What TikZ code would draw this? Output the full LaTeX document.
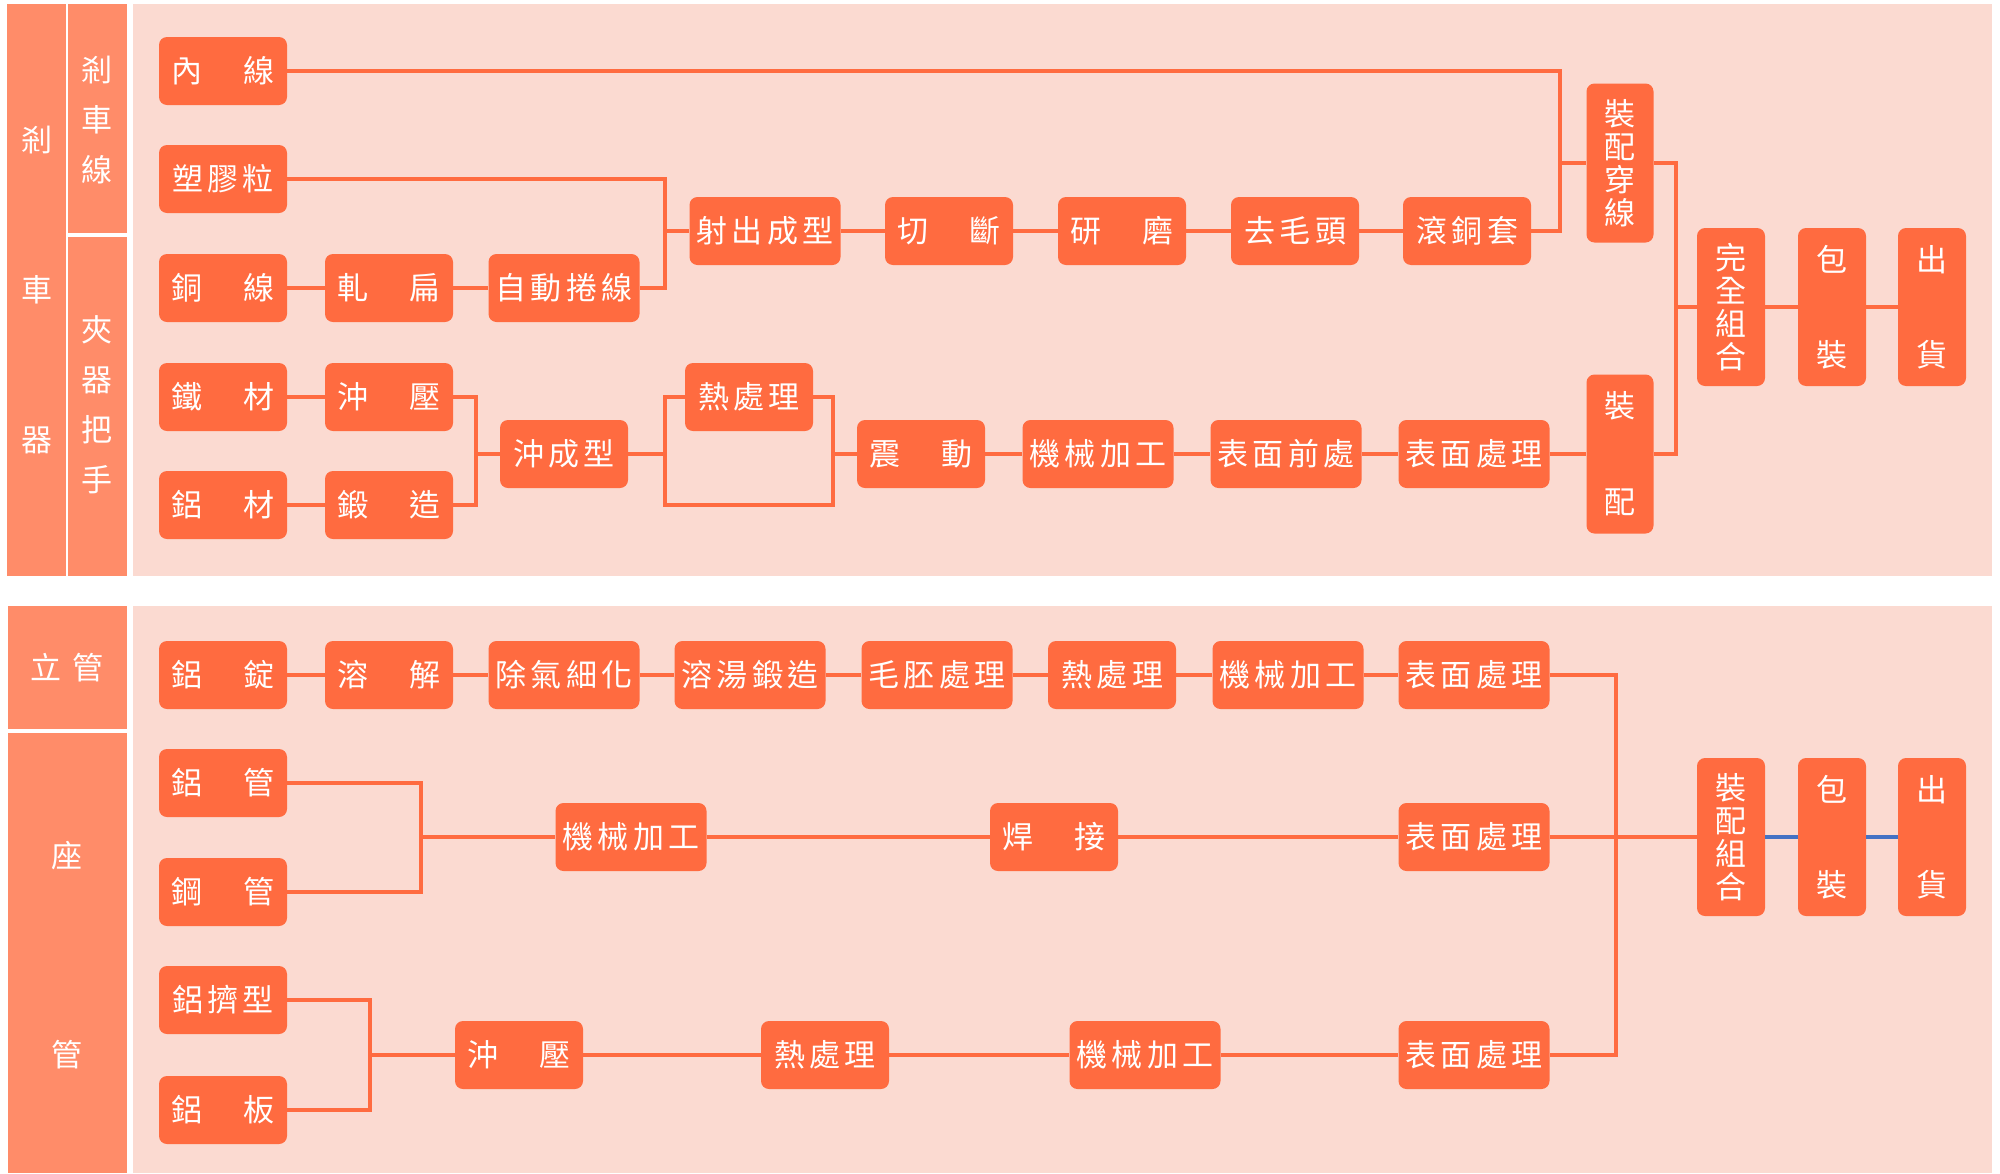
\documentclass[tikz,border=0pt]{standalone}
\usepackage{fontspec}
\setmainfont{Noto Sans CJK TC}
\definecolor{boxc}{HTML}{FF6B40}
\definecolor{catc}{HTML}{FF8C69}
\definecolor{panelc}{HTML}{FBDAD1}
\definecolor{bluec}{HTML}{4472C4}
\newcommand\tw[2]{\makebox[104pt][s]{#1\hfill#2}}
\newcommand\lsp{\kern4.5pt}
\begin{document}
\begin{tikzpicture}[x=1pt,y=-1pt,
  box/.style={fill=boxc, rounded corners=8pt, text=white, inner sep=0pt,
    minimum width=128pt, minimum height=68pt, font=\fontsize{31}{33}\selectfont},
  wide/.style={box, minimum width=151pt},
  tall/.style={box, minimum width=68pt, minimum height=158pt, align=center},
  ln/.style={draw=boxc, line width=3.5pt, line join=miter},
  bl/.style={draw=bluec, line width=3.5pt},
  cattext/.style={text=white, inner sep=0pt, align=center}]
\fill[white] (0,0) rectangle (2000,1173);
\useasboundingbox (0,0) rectangle (2000,1173);
% panels
\fill[catc] (7,4) rectangle (66,576);
\fill[catc] (68,4) rectangle (127,233);
\fill[catc] (68,237) rectangle (127,576);
\fill[panelc] (133,4) rectangle (1992,576);
\fill[catc] (8,606) rectangle (127,729);
\fill[catc] (8,733) rectangle (127,1173);
\fill[panelc] (133,606) rectangle (1992,1173);
% category labels
\node[cattext, font=\fontsize{31}{150}\selectfont] (c1) at (37,290) {剎\\車\\器};
\node[cattext, font=\fontsize{31}{50}\selectfont] (c2) at (97,120) {剎\\車\\線};
\node[cattext, font=\fontsize{31}{50}\selectfont] (c3) at (97,405) {夾\\器\\把\\手};
\node[cattext, font=\fontsize{31}{33}\selectfont] (c4) at (67,668) {立\hspace{12pt}管};
\node[cattext, font=\fontsize{31}{199}\selectfont] (c5) at (67,955) {座\\管};

% ---------- top panel nodes ----------
\node[box] (nx) at (223,71) {\tw{內}{線}};
\node[box] (sj) at (223,179) {塑\lsp 膠\lsp 粒};
\node[box] (tx) at (223,288) {\tw{銅}{線}};
\node[box] (zb) at (389,288) {\tw{軋}{扁}};
\node[wide] (zd) at (564,288) {自\lsp 動\lsp 捲\lsp 線};
\node[box] (tc) at (223,397) {\tw{鐵}{材}};
\node[box] (cy) at (389,397) {\tw{沖}{壓}};
\node[box] (lc) at (223,505) {\tw{鋁}{材}};
\node[box] (dz) at (389,505) {\tw{鍛}{造}};
\node[box] (ccx) at (564,454) {沖\lsp 成\lsp 型};
\node[wide] (sc) at (765,231) {射\lsp 出\lsp 成\lsp 型};
\node[box] (qd) at (949,231) {\tw{切}{斷}};
\node[box] (ym) at (1122,231) {\tw{研}{磨}};
\node[box] (qmt) at (1295,231) {去\lsp 毛\lsp 頭};
\node[box] (gtt) at (1467,231) {滾\lsp 銅\lsp 套};
\node[box] (rcl) at (749,397) {熱\lsp 處\lsp 理};
\node[box] (zd2) at (921,454) {\tw{震}{動}};
\node[wide] (jx) at (1098,454) {機\lsp 械\lsp 加\lsp 工};
\node[wide] (bq) at (1286,454) {表\lsp 面\lsp 前\lsp 處};
\node[wide] (bm) at (1474,454) {表\lsp 面\lsp 處\lsp 理};
\node[tall, minimum width=67pt, minimum height=159pt] (zpcx) at (1620,163) {裝\\配\\穿\\線};
\node[tall, minimum width=67pt, minimum height=159pt] (zp) at (1620,454) {裝\\[63pt]配};
\node[tall] (wq) at (1731,307) {完\\全\\組\\合};
\node[tall] (bz) at (1832,307) {包\\[62pt]裝};
\node[tall] (ch) at (1932,307) {出\\[62pt]貨};

\coordinate (v1) at (1560,0);
\coordinate (v2) at (665,0);
\coordinate (v3) at (476,0);
\coordinate (v4) at (833,0);
\coordinate (v5) at (1676,0);

% ---------- top panel connectors ----------
\draw[ln] (nx.east) -- (nx.east -| v1) |- (gtt.east);
\draw[ln] (v1 |- zpcx.west) -- (zpcx.west);
\draw[ln] (sj.east) -- (sj.east -| v2) |- (zd.east);
\draw[ln] (v2 |- sc.west) -- (sc.west);
\draw[ln] (tx) -- (zb);
\draw[ln] (zb) -- (zd);
\draw[ln] (tc) -- (cy);
\draw[ln] (lc) -- (dz);
\draw[ln] (cy.east) -- (cy.east -| v3) |- (dz.east);
\draw[ln] (v3 |- ccx.west) -- (ccx.west);
\draw[ln] (sc) -- (qd);
\draw[ln] (qd) -- (ym);
\draw[ln] (ym) -- (qmt);
\draw[ln] (qmt) -- (gtt);
\draw[ln] (ccx.east) -- (ccx.east -| v2);
\draw[ln] (rcl.west) -- (rcl.west -| v2) -- (v2 |- dz.east) -- (v4 |- dz.east) -- (v4 |- rcl.east) -- (rcl.east);
\draw[ln] (v4 |- zd2.west) -- (zd2.west);
\draw[ln] (zd2) -- (jx);
\draw[ln] (jx) -- (bq);
\draw[ln] (bq) -- (bm);
\draw[ln] (bm) -- (zp);
\draw[ln] (zpcx.east) -- (zpcx.east -| v5) |- (zp.east);
\draw[ln] (v5 |- wq.west) -- (wq.west);
\draw[ln] (wq) -- (bz);
\draw[ln] (bz) -- (ch);

% ---------- bottom panel nodes ----------
\node[box] (ld) at (223,675) {\tw{鋁}{錠}};
\node[box] (rj) at (389,675) {\tw{溶}{解}};
\node[wide] (cq) at (564,675) {除\lsp 氣\lsp 細\lsp 化};
\node[wide] (rt) at (750,675) {溶\lsp 湯\lsp 鍛\lsp 造};
\node[wide] (mp) at (937,675) {毛\lsp 胚\lsp 處\lsp 理};
\node[box] (rcl2) at (1112,675) {熱\lsp 處\lsp 理};
\node[wide] (jx2) at (1288,675) {機\lsp 械\lsp 加\lsp 工};
\node[wide] (bm2) at (1474,675) {表\lsp 面\lsp 處\lsp 理};
\node[box] (lg) at (223,783) {\tw{鋁}{管}};
\node[box] (gg) at (223,892) {\tw{鋼}{管}};
\node[wide] (jx3) at (631,837) {機\lsp 械\lsp 加\lsp 工};
\node[box] (hj) at (1054,837) {\tw{焊}{接}};
\node[wide] (bm3) at (1474,837) {表\lsp 面\lsp 處\lsp 理};
\node[box] (ljx) at (223,1000) {鋁\lsp 擠\lsp 型};
\node[box] (lb) at (223,1110) {\tw{鋁}{板}};
\node[box] (cy2) at (519,1055) {\tw{沖}{壓}};
\node[box] (rcl3) at (825,1055) {熱\lsp 處\lsp 理};
\node[wide] (jx4) at (1145,1055) {機\lsp 械\lsp 加\lsp 工};
\node[wide] (bm4) at (1474,1055) {表\lsp 面\lsp 處\lsp 理};
\node[tall] (zpzh) at (1731,837) {裝\\配\\組\\合};
\node[tall] (bz2) at (1832,837) {包\\[62pt]裝};
\node[tall] (ch2) at (1932,837) {出\\[62pt]貨};

\coordinate (w1) at (1616,0);
\coordinate (w2) at (421,0);
\coordinate (w3) at (370,0);

% ---------- bottom panel connectors ----------
\draw[ln] (ld) -- (rj);
\draw[ln] (rj) -- (cq);
\draw[ln] (cq) -- (rt);
\draw[ln] (rt) -- (mp);
\draw[ln] (mp) -- (rcl2);
\draw[ln] (rcl2) -- (jx2);
\draw[ln] (jx2) -- (bm2);
\draw[ln] (bm2.east) -- (bm2.east -| w1) |- (bm4.east);
\draw[ln] (bm3) -- (zpzh);
\draw[ln] (lg.east) -- (lg.east -| w2) |- (gg.east);
\draw[ln] (w2 |- jx3.west) -- (jx3.west);
\draw[ln] (jx3) -- (hj);
\draw[ln] (hj) -- (bm3);
\draw[ln] (ljx.east) -- (ljx.east -| w3) |- (lb.east);
\draw[ln] (w3 |- cy2.west) -- (cy2.west);
\draw[ln] (cy2) -- (rcl3);
\draw[ln] (rcl3) -- (jx4);
\draw[ln] (jx4) -- (bm4);
\draw[bl] (zpzh) -- (bz2);
\draw[bl] (bz2) -- (ch2);
\end{tikzpicture}
\end{document}
